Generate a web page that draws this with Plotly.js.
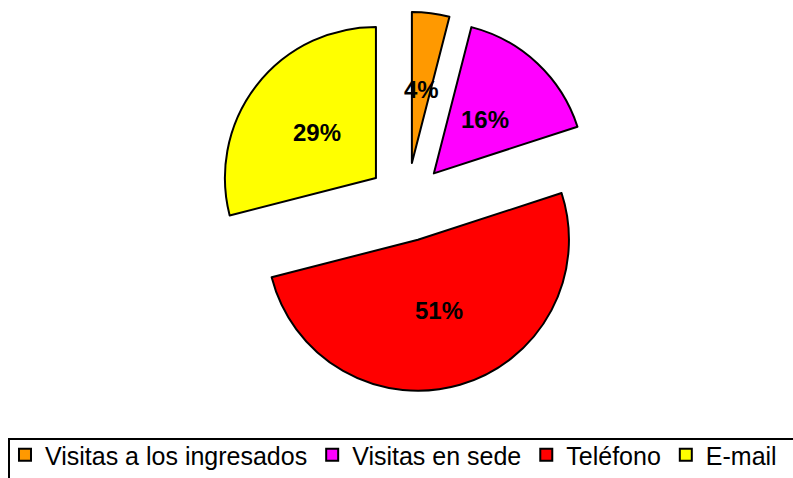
<!DOCTYPE html>
<html>
<head>
<meta charset="utf-8">
<script src="https://cdn.plot.ly/plotly-3.0.1.min.js"></script>
<style>html,body{margin:0;padding:0;background:#fff;}#chart{width:793px;height:478px;}</style>
</head>
<body>
<div id="chart"></div>
<script>
var categories = ["Visitas a los ingresados", "Visitas en sede", "Teléfono", "E-mail"];
var values = [4, 16, 51, 29];
var colors = ["#FF9900", "#FF00FF", "#FF0000", "#FFFF00"];

var W = 793, H = 478;
var PULL = 0.26;
var LABEL_R = 0.49;   // label distance (fraction of radius) beyond the pulled apex
var FONT = "Arial, 'Liberation Sans', sans-serif";

var trace = {
  type: "pie",
  labels: categories,
  values: values,
  sort: false,
  direction: "clockwise",
  rotation: 0,
  pull: PULL,
  marker: {colors: colors, line: {color: "#000000", width: 2}},
  textinfo: "none",
  textposition: "none",
  domain: {x: [0.2, 0.8264], y: [0.1793, 0.9755]},
  hoverinfo: "label+percent"
};

var layout = {
  width: W, height: H,
  margin: {l: 0, r: 0, t: 0, b: 0},
  paper_bgcolor: "#ffffff",
  showlegend: true,
  legend: {
    orientation: "h",
    x: 0.0063, xanchor: "left",
    y: 0.0, yanchor: "bottom",
    borderwidth: 0,
    bgcolor: "rgba(0,0,0,0)",
    font: {family: FONT, size: 25, color: "#000000"},
    traceorder: "normal"
  },
  shapes: [{
    type: "rect", xref: "paper", yref: "paper",
    x0: 9 / W, x1: 1.02, y0: -0.05, y1: 1 - 439 / H,
    line: {color: "#000000", width: 2}, fillcolor: "rgba(0,0,0,0)", layer: "below"
  }]
};

var gd = document.getElementById("chart");
Plotly.newPlot(gd, [trace], layout, {displayModeBar: false, staticPlot: true}).then(function () {
  var cd0 = gd.calcdata[0][0];
  var cx = cd0.cx, cy = cd0.cy, r = cd0.r;
  var total = values.reduce(function (a, b) { return a + b; }, 0);
  var cum = 0;
  var anns = values.map(function (v) {
    var th = 2 * Math.PI * (cum + v / 2) / total;
    cum += v;
    var d = (PULL + LABEL_R) * r;
    var px = cx + d * Math.sin(th), py = cy - d * Math.cos(th);
    return {
      xref: "paper", yref: "paper", x: px / W, y: 1 - py / H,
      xanchor: "center", yanchor: "middle", showarrow: false,
      text: "<b>" + Math.round(100 * v / total) + "%</b>",
      font: {family: FONT, size: 24, color: "#000000"}
    };
  });
  return Plotly.relayout(gd, {annotations: anns});
});
</script>
</body>
</html>
